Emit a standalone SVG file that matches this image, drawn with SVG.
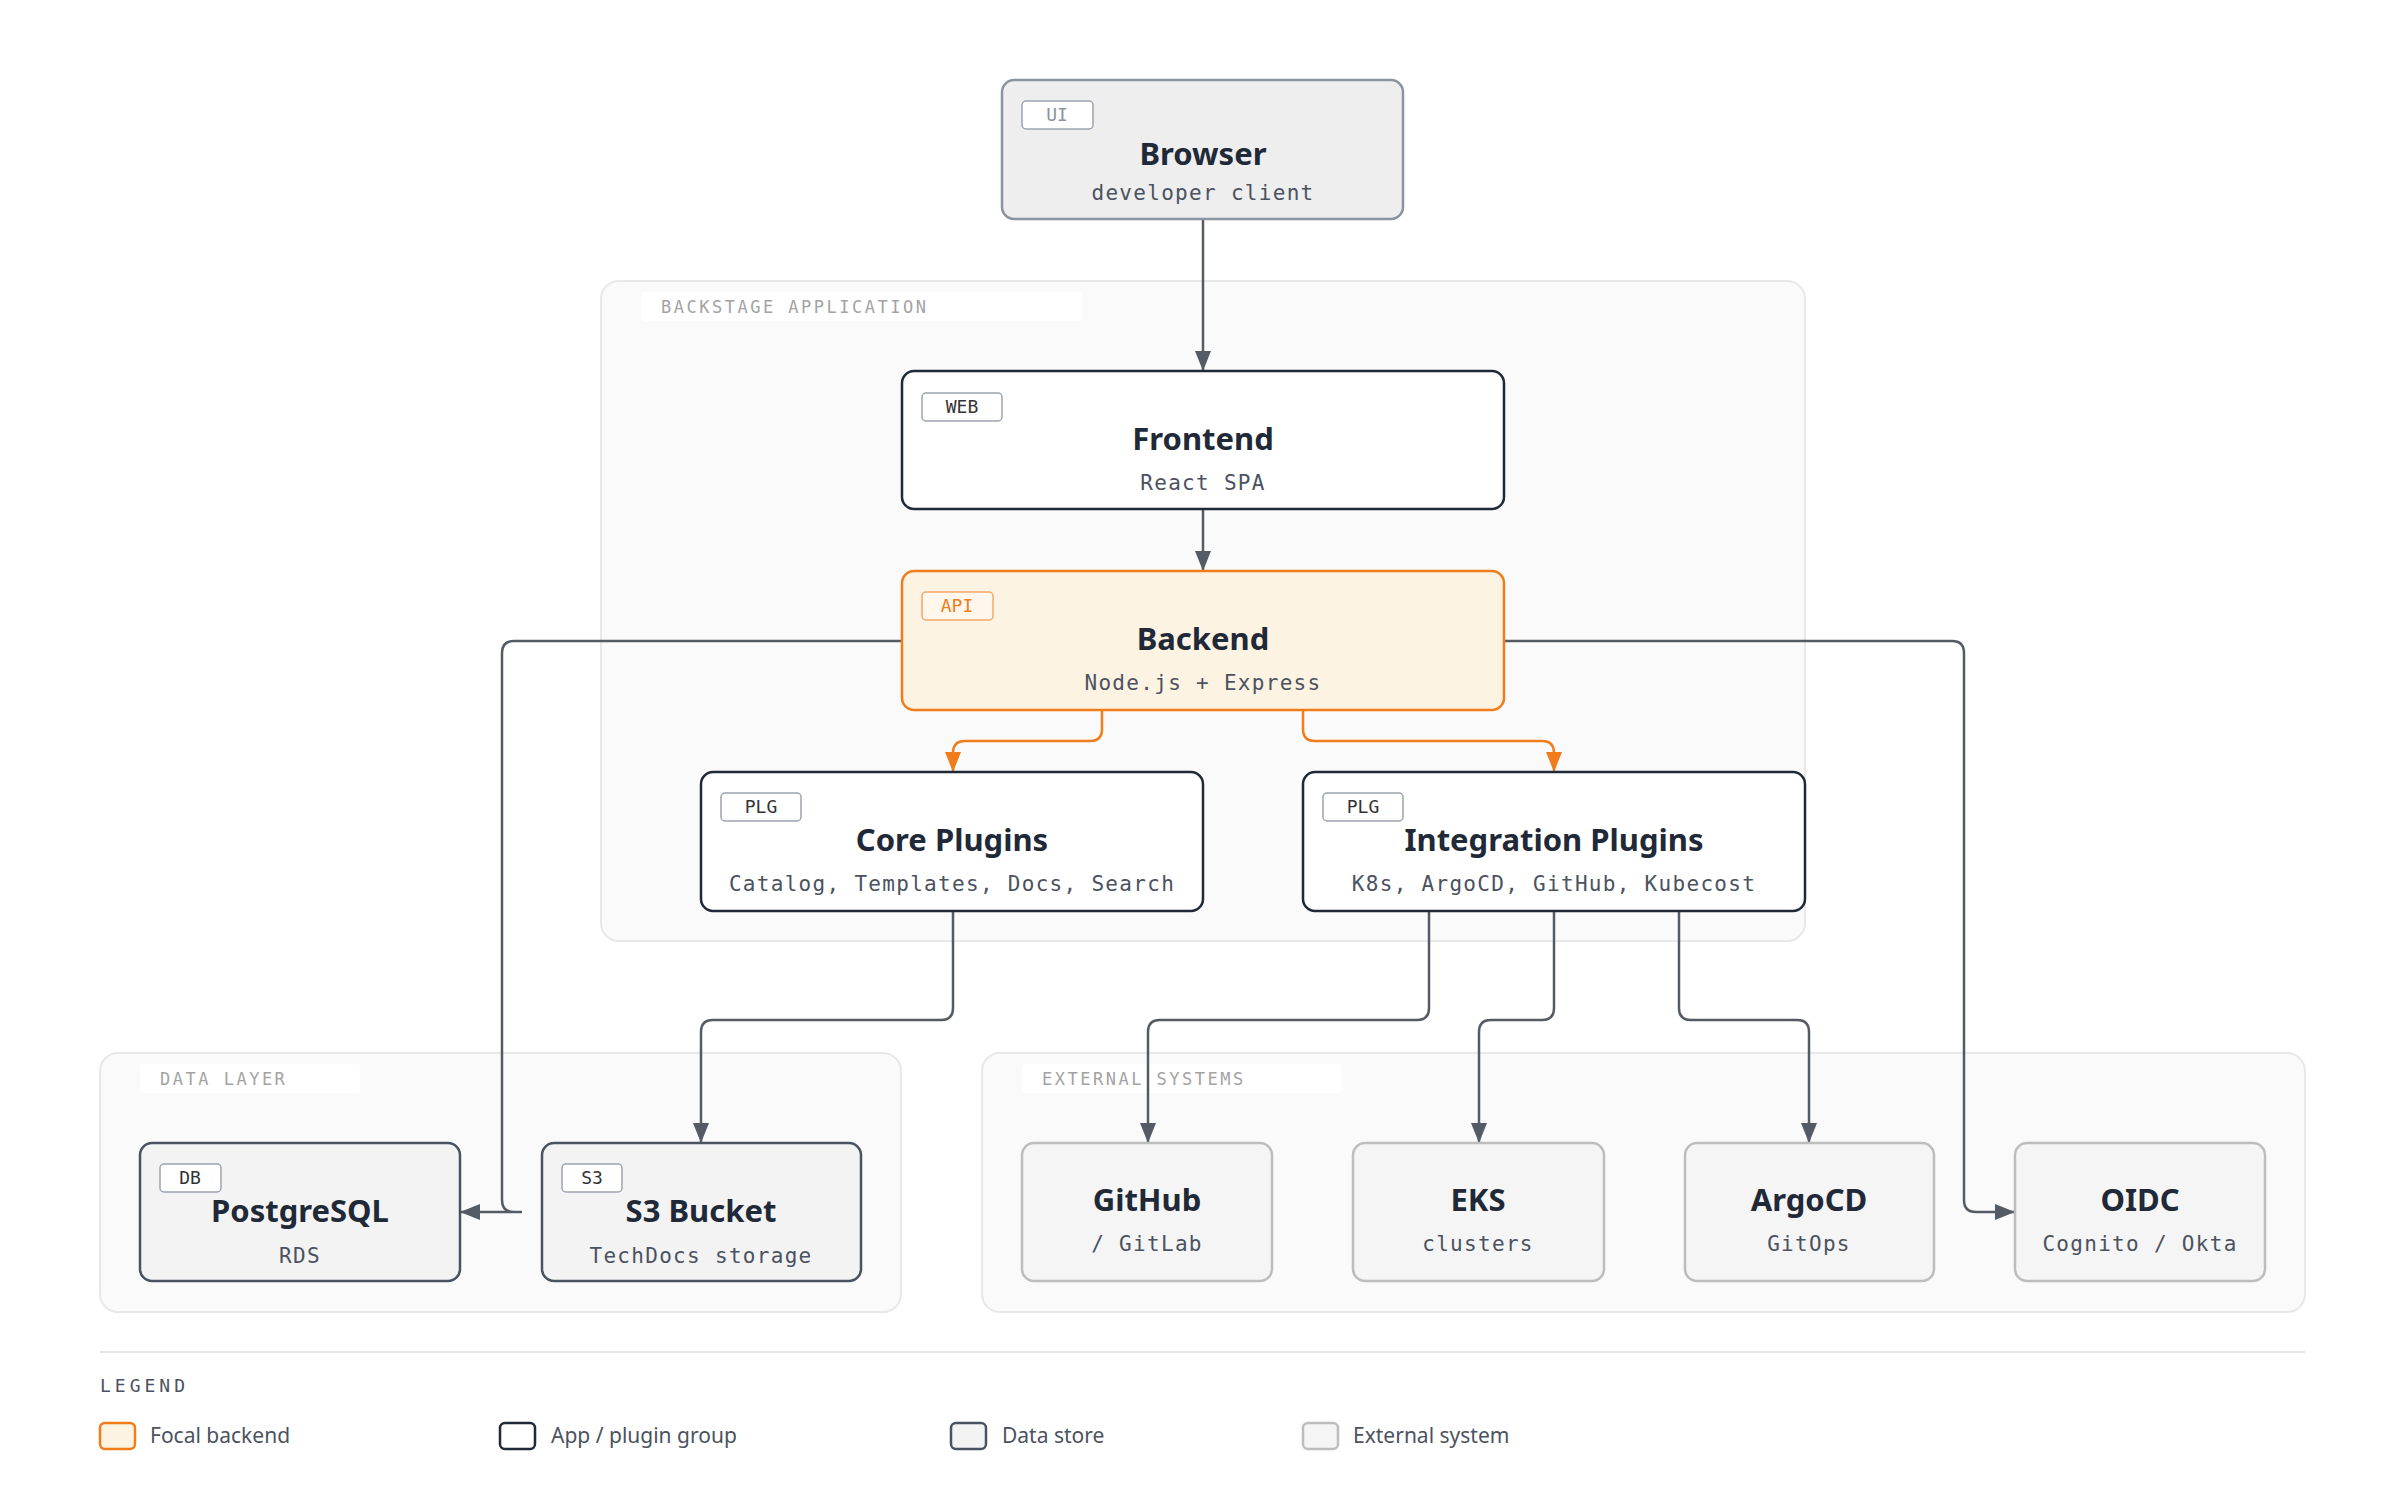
<svg xmlns="http://www.w3.org/2000/svg" width="2400" height="1502" viewBox="0 0 2400 1502">
<style>
.grp{fill:#fafafa;stroke:#e8e8e8;stroke-width:2}
.glbl{fill:#ffffff}
.gtxt{font-family:"DejaVu Sans Mono",monospace;font-size:17px;letter-spacing:2.5px;fill:#a3a3a3}
.title{font-family:"Noto Sans",sans-serif;font-weight:bold;font-size:31px;fill:#1f2937;text-anchor:middle}
.sub{font-family:"DejaVu Sans Mono",monospace;font-size:21px;fill:#4b5260;text-anchor:middle;letter-spacing:1.3px}
.tag{font-family:"DejaVu Sans Mono",monospace;font-size:18px;text-anchor:middle;fill:#333}
.app{fill:#fff;stroke:#1f2937;stroke-width:2.5}
.ds{fill:#f3f3f4;stroke:#4b5260;stroke-width:2.5}
.ext{fill:#f5f5f5;stroke:#bdbdbd;stroke-width:2.5}
.tagbox{fill:#fff;stroke:#9ca3af;stroke-width:1.5}
.c{fill:none;stroke:#555b65;stroke-width:2.5}
.co{fill:none;stroke:#f07c1a;stroke-width:2.5}
.lg{font-family:"Noto Sans",sans-serif;font-size:21px;fill:#4b5260}
</style>
<defs>
<marker id="ag" viewBox="0 0 20 16" refX="19" refY="8" markerWidth="20" markerHeight="16" orient="auto" markerUnits="userSpaceOnUse"><path d="M0,0 L20,8 L0,16 z" fill="#555b65"/></marker>
<marker id="ao" viewBox="0 0 20 16" refX="19" refY="8" markerWidth="20" markerHeight="16" orient="auto" markerUnits="userSpaceOnUse"><path d="M0,0 L20,8 L0,16 z" fill="#f07c1a"/></marker>
</defs>
<rect width="2400" height="1502" fill="#fff"/>
<g id="groups">
<rect class="grp" x="601" y="281" width="1204" height="660" rx="18"/>
<rect class="glbl" x="641" y="292" width="441" height="29" rx="4"/>
<text class="gtxt" x="661" y="313">BACKSTAGE APPLICATION</text>
<rect class="grp" x="100" y="1053" width="801" height="259" rx="18"/>
<rect class="glbl" x="140" y="1064" width="220" height="29" rx="4"/>
<text class="gtxt" x="160" y="1085">DATA LAYER</text>
<rect class="grp" x="982" y="1053" width="1323" height="259" rx="18"/>
<rect class="glbl" x="1022" y="1064" width="320" height="29" rx="4"/>
<text class="gtxt" x="1042" y="1085">EXTERNAL SYSTEMS</text>
</g>
<g id="connectors">
<path class="c" d="M1203 219 V370" marker-end="url(#ag)"/>
<path class="c" d="M1203 509 V570" marker-end="url(#ag)"/>
<path class="co" d="M1102 710 V729 Q1102 741 1090 741 H965 Q953 741 953 753 V771" marker-end="url(#ao)"/>
<path class="co" d="M1303 710 V729 Q1303 741 1315 741 H1542 Q1554 741 1554 753 V771" marker-end="url(#ao)"/>
<path class="c" d="M902 641 H514 Q502 641 502 653 V1200 Q502 1212 514 1212 H522 H461" marker-end="url(#ag)"/>
<path class="c" d="M1504 641 H1952 Q1964 641 1964 653 V1200 Q1964 1212 1976 1212 H2014" marker-end="url(#ag)"/>
<path class="c" d="M953 911 V1008 Q953 1020 941 1020 H713 Q701 1020 701 1032 V1142" marker-end="url(#ag)"/>
<path class="c" d="M1429 911 V1008 Q1429 1020 1417 1020 H1160 Q1148 1020 1148 1032 V1142" marker-end="url(#ag)"/>
<path class="c" d="M1554 911 V1008 Q1554 1020 1542 1020 H1491 Q1479 1020 1479 1032 V1142" marker-end="url(#ag)"/>
<path class="c" d="M1679 911 V1008 Q1679 1020 1691 1020 H1797 Q1809 1020 1809 1032 V1142" marker-end="url(#ag)"/>
</g>
<g id="browser">
<rect x="1002" y="80" width="401" height="139" rx="12" fill="#eeeeef" stroke="#8a93a0" stroke-width="2.5"/>
<rect class="tagbox" x="1022" y="101" width="71" height="28" rx="4" fill="#f3f3f3" stroke="#c4c8ce"/>
<text class="tag" x="1057" y="121" style="fill:#8a93a0">UI</text>
<text class="title" x="1203" y="165">Browser</text>
<text class="sub" x="1203" y="200">developer client</text>
</g>
<g id="frontend">
<rect class="app" x="902" y="371" width="602" height="138" rx="12"/>
<rect class="tagbox" x="922" y="393" width="80" height="28" rx="4"/>
<text class="tag" x="962" y="413">WEB</text>
<text class="title" x="1203" y="450">Frontend</text>
<text class="sub" x="1203" y="490">React SPA</text>
</g>
<g id="backend">
<rect x="902" y="571" width="602" height="139" rx="12" fill="#fdf3e3" stroke="#f07c1a" stroke-width="2.5"/>
<rect x="922" y="592" width="71" height="28" rx="4" fill="#fff7ec" stroke="#f5a86a" stroke-width="1.5"/>
<text class="tag" x="957" y="612" style="fill:#f07c1a">API</text>
<text class="title" x="1203" y="650">Backend</text>
<text class="sub" x="1203" y="690">Node.js + Express</text>
</g>
<g id="core">
<rect class="app" x="701" y="772" width="502" height="139" rx="12"/>
<rect class="tagbox" x="721" y="793" width="80" height="28" rx="4"/>
<text class="tag" x="761" y="813">PLG</text>
<text class="title" x="952" y="851">Core Plugins</text>
<text class="sub" x="952" y="891">Catalog, Templates, Docs, Search</text>
</g>
<g id="integration">
<rect class="app" x="1303" y="772" width="502" height="139" rx="12"/>
<rect class="tagbox" x="1323" y="793" width="80" height="28" rx="4"/>
<text class="tag" x="1363" y="813">PLG</text>
<text class="title" x="1554" y="851">Integration Plugins</text>
<text class="sub" x="1554" y="891">K8s, ArgoCD, GitHub, Kubecost</text>
</g>
<g id="postgres">
<rect class="ds" x="140" y="1143" width="320" height="138" rx="12"/>
<rect class="tagbox" x="160" y="1164" width="61" height="28" rx="4" fill="#f3f3f4"/>
<text class="tag" x="190" y="1184">DB</text>
<text class="title" x="300" y="1222">PostgreSQL</text>
<text class="sub" x="300" y="1263">RDS</text>
</g>
<g id="s3">
<rect class="ds" x="542" y="1143" width="319" height="138" rx="12"/>
<rect class="tagbox" x="562" y="1164" width="60" height="28" rx="4" fill="#f3f3f4"/>
<text class="tag" x="592" y="1184">S3</text>
<text class="title" x="701" y="1222">S3 Bucket</text>
<text class="sub" x="701" y="1263">TechDocs storage</text>
</g>
<g id="github">
<rect class="ext" x="1022" y="1143" width="250" height="138" rx="12"/>
<text class="title" x="1147" y="1211">GitHub</text>
<text class="sub" x="1147" y="1251">/ GitLab</text>
</g>
<g id="eks">
<rect class="ext" x="1353" y="1143" width="251" height="138" rx="12"/>
<text class="title" x="1478" y="1211">EKS</text>
<text class="sub" x="1478" y="1251">clusters</text>
</g>
<g id="argocd">
<rect class="ext" x="1685" y="1143" width="249" height="138" rx="12"/>
<text class="title" x="1809" y="1211">ArgoCD</text>
<text class="sub" x="1809" y="1251">GitOps</text>
</g>
<g id="oidc">
<rect class="ext" x="2015" y="1143" width="250" height="138" rx="12"/>
<text class="title" x="2140" y="1211">OIDC</text>
<text class="sub" x="2140" y="1251">Cognito / Okta</text>
</g>
<g id="legend">
<line x1="100" y1="1352" x2="2305" y2="1352" stroke="#e5e5e5" stroke-width="2"/>
<text x="100" y="1392" style="font-family:'DejaVu Sans Mono',monospace;font-size:18px;letter-spacing:4px;fill:#4b5260">LEGEND</text>
<rect x="100" y="1423" width="35" height="26" rx="5" fill="#fdf3e3" stroke="#f07c1a" stroke-width="2.5"/>
<text class="lg" x="150" y="1443">Focal backend</text>
<rect x="500" y="1423" width="35" height="26" rx="5" fill="#fff" stroke="#1f2937" stroke-width="2.5"/>
<text class="lg" x="551" y="1443">App / plugin group</text>
<rect x="951" y="1423" width="35" height="26" rx="5" fill="#f3f3f4" stroke="#4b5260" stroke-width="2.5"/>
<text class="lg" x="1002" y="1443">Data store</text>
<rect x="1303" y="1423" width="35" height="26" rx="5" fill="#f5f5f5" stroke="#bdbdbd" stroke-width="2.5"/>
<text class="lg" x="1353" y="1443">External system</text>
</g>
</svg>
